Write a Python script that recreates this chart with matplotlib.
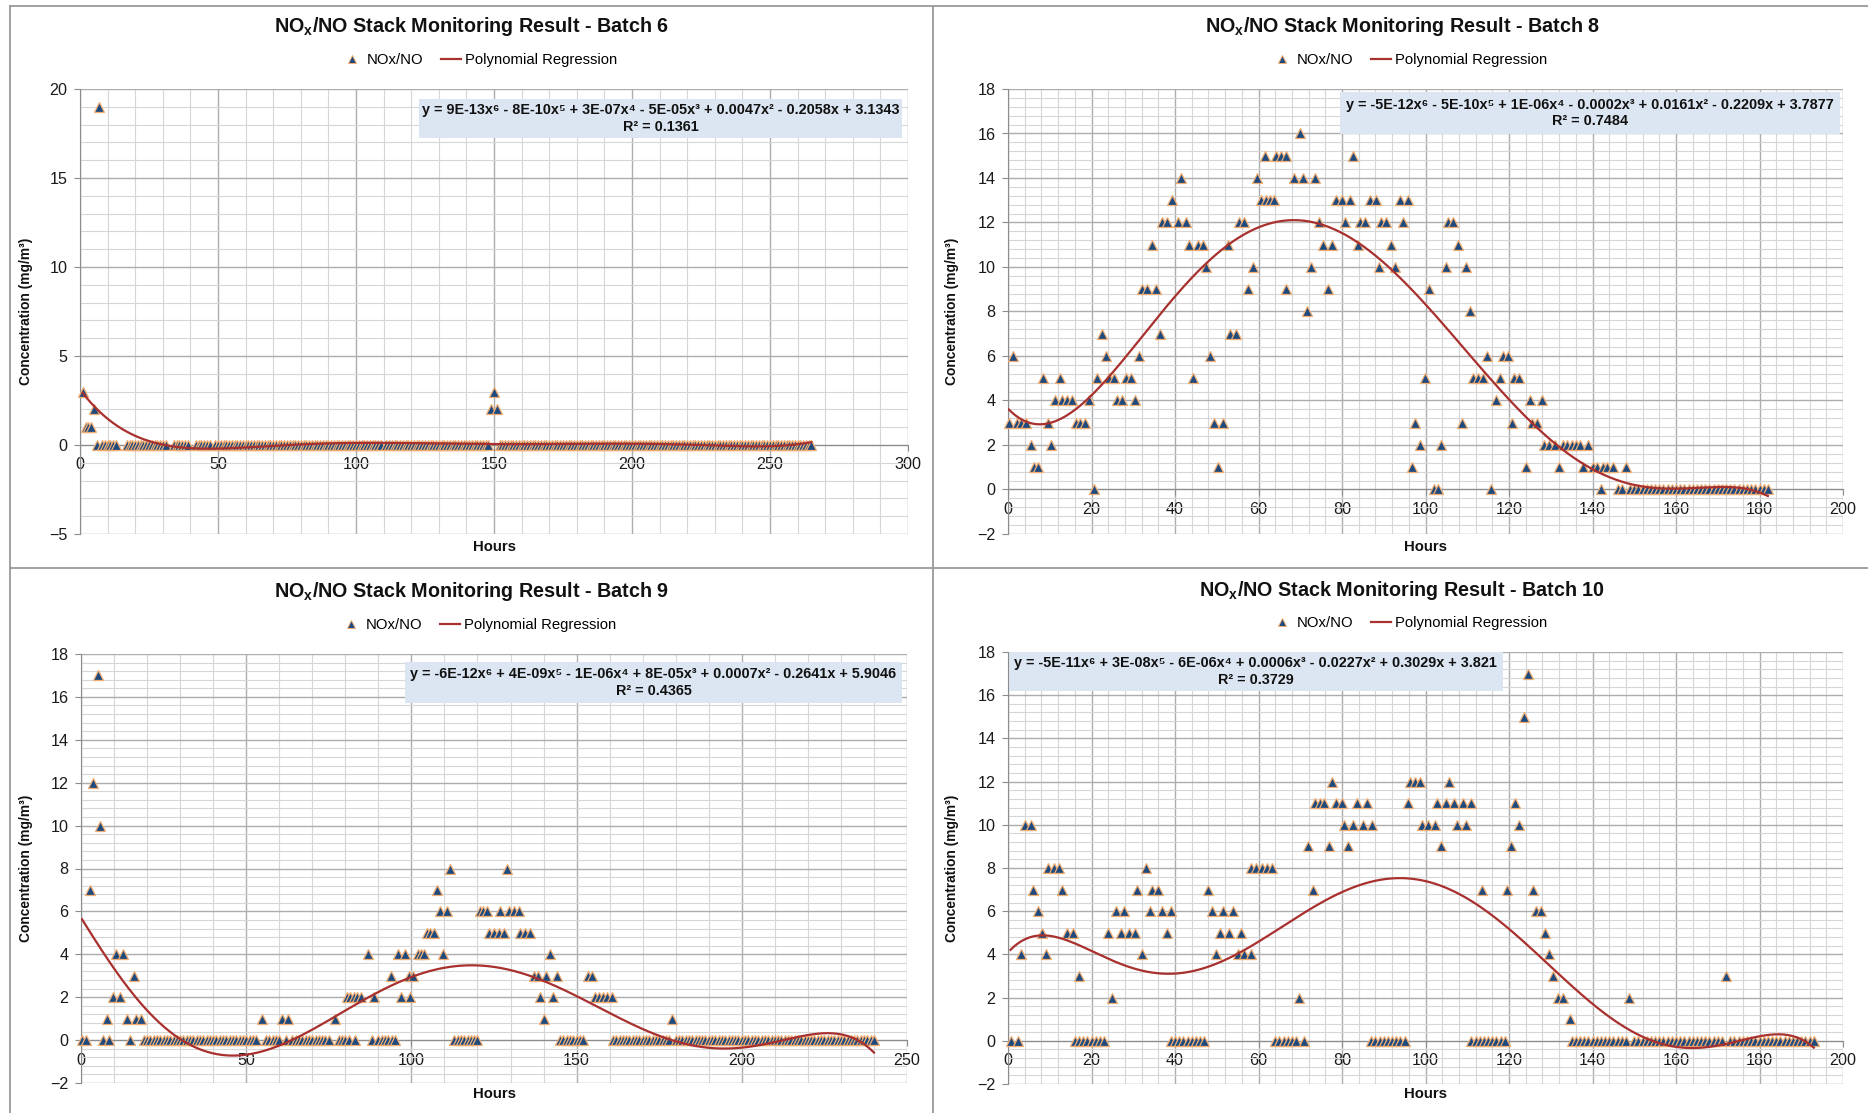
import numpy as np
import matplotlib
matplotlib.use("Agg")
import matplotlib.pyplot as plt
from matplotlib import font_manager
from matplotlib.lines import Line2D
from matplotlib.patches import Rectangle
from matplotlib.ticker import MultipleLocator

# ============================================================
# DATA  (hour, concentration)
# ============================================================

b6_points = [(1, 3), (2, 1), (3, 1), (4, 1), (5, 2), (6, 0), (7, 19),
             (149, 2), (150, 3), (151, 2)]
b6_zero_runs = [(8, 13), (17, 31), (34, 39), (42, 47), (49, 109), (111, 148), (152, 265)]

b8_points = [
    (70, 16),
    (61.6, 15), (64.2, 15), (65.4, 15), (66.5, 15), (82.7, 15),
    (41.4, 14), (59.6, 14), (68.6, 14), (70.6, 14), (73.6, 14),
    (39.4, 13), (60.6, 13), (61.8, 13), (62.8, 13), (63.8, 13), (78.6, 13), (80, 13),
    (81.8, 13), (86.6, 13), (88.2, 13), (93.8, 13), (95.8, 13),
    (37, 12), (38.2, 12), (40.6, 12), (42.6, 12), (55.4, 12), (56.6, 12), (74.6, 12),
    (80.6, 12), (84.2, 12), (85.4, 12), (89.4, 12), (90.6, 12), (94.7, 12), (105.4, 12), (106.6, 12),
    (34.5, 11), (43.4, 11), (45.4, 11), (46.6, 11), (52.6, 11), (75.5, 11), (77.6, 11),
    (83.8, 11), (91.8, 11), (107.8, 11),
    (47.4, 10), (58.6, 10), (72.6, 10), (88.8, 10), (92.8, 10), (104.8, 10), (109.8, 10),
    (32.2, 9), (33.4, 9), (35.4, 9), (57.4, 9), (66.7, 9), (76.6, 9), (100.8, 9),
    (71.5, 8), (110.7, 8),
    (22.5, 7), (36.5, 7), (53.2, 7), (54.6, 7),
    (1.2, 6), (23.4, 6), (31.4, 6), (48.4, 6), (114.8, 6), (118.5, 6), (119.7, 6),
    (8.4, 5), (12.4, 5), (21.3, 5), (24.2, 5), (25.4, 5), (28.2, 5), (29.4, 5), (44.4, 5),
    (99.8, 5), (111.4, 5), (112.6, 5), (113.7, 5), (117.9, 5), (121.3, 5), (122.5, 5),
    (11.3, 4), (13, 4), (14.2, 4), (15.4, 4), (19.3, 4), (26.2, 4), (27.4, 4), (30.5, 4),
    (117, 4), (125, 4), (128, 4),
    (0.2, 3), (2.2, 3), (3.2, 3), (4.2, 3), (9.7, 3), (16.2, 3), (17.3, 3), (18.5, 3),
    (49.4, 3), (51.6, 3), (97.6, 3), (108.7, 3), (120.8, 3), (125.6, 3), (126.7, 3),
    (5.4, 2), (10.2, 2), (98.8, 2), (103.8, 2), (128.5, 2), (129.7, 2), (130.9, 2),
    (132.9, 2), (134, 2), (135, 2), (136, 2), (136.9, 2), (138.9, 2),
    (6.2, 1), (7.3, 1), (50.4, 1), (96.7, 1), (124, 1), (132, 1), (137.7, 1), (140, 1),
    (141, 1), (142.5, 1), (143.5, 1), (144.9, 1), (148, 1),
    (20.6, 0), (102, 0), (103, 0), (115.7, 0), (142.1, 0), (146, 0), (147, 0),
]
b8_zero_runs = [(149, 182)]

b9_points = [
    (5.0, 17), (3.6, 12), (5.8, 10),
    (111.7, 8), (128.9, 8),
    (2.8, 7), (107.7, 7),
    (108.7, 6), (110.7, 6), (120.8, 6), (121.8, 6), (122.8, 6), (126.8, 6), (129.4, 6),
    (131, 6), (132.5, 6),
    (104.6, 5), (105.6, 5), (106.7, 5), (123.5, 5), (125, 5), (126.5, 5), (128, 5),
    (133, 5), (134.4, 5), (135.9, 5),
    (10.6, 4), (12.7, 4), (87, 4), (95.8, 4), (98.1, 4), (102.1, 4), (102.9, 4), (103.7, 4),
    (109.7, 4), (141.8, 4),
    (15.9, 3), (93.8, 3), (99.3, 3), (100.6, 3), (137.2, 3), (138.4, 3), (140.8, 3), (144, 3),
    (153.4, 3), (154.6, 3),
    (9.6, 2), (11.9, 2), (80.4, 2), (81.5, 2), (82.5, 2), (83.5, 2), (84.6, 2), (88.7, 2),
    (96.8, 2), (99.6, 2), (138.9, 2), (142.8, 2), (155.5, 2), (156.8, 2), (158, 2),
    (159.3, 2), (160.6, 2),
    (7.8, 1), (13.9, 1), (16.7, 1), (18.1, 1), (54.7, 1), (60.8, 1), (62.8, 1), (76.9, 1),
    (140, 1), (178.8, 1),
    (0.3, 0), (1.5, 0), (6.8, 0), (8.6, 0), (14.9, 0),
]
b9_zero_runs = [(19, 53), (56, 60), (62, 62), (64, 75), (78, 81), (83, 83), (88, 88),
                (90, 95), (113, 120), (145, 152), (161, 178), (180, 240)]

b10_points = [
    (124.5, 17), (123.6, 15),
    (77.7, 12), (96.4, 12), (97.5, 12), (98.6, 12), (105.7, 12),
    (73.6, 11), (74.7, 11), (75.7, 11), (78.6, 11), (80, 11), (83.6, 11), (85.9, 11),
    (95.7, 11), (102.7, 11), (104.8, 11), (106.9, 11), (109, 11), (110.9, 11), (121.5, 11),
    (4.1, 10), (5.5, 10), (80.5, 10), (82.7, 10), (85, 10), (87.3, 10), (99.1, 10),
    (100.7, 10), (102.3, 10), (107.5, 10), (109.7, 10), (122.5, 10),
    (71.8, 9), (76.8, 9), (81.5, 9), (103.6, 9), (120.5, 9),
    (9.5, 8), (10.9, 8), (12.3, 8), (33, 8), (58.2, 8), (59.5, 8), (60.8, 8), (62, 8), (63.2, 8),
    (6.1, 7), (13, 7), (30.9, 7), (34.5, 7), (35.9, 7), (47.9, 7), (73, 7), (113.6, 7),
    (119.5, 7), (125.7, 7),
    (7.1, 6), (25.9, 6), (27.9, 6), (33.9, 6), (36.8, 6), (39.1, 6), (48.9, 6), (51.4, 6),
    (53.9, 6), (126.4, 6), (127.7, 6),
    (8.2, 5), (14.1, 5), (15.5, 5), (23.9, 5), (27, 5), (29, 5), (30.5, 5), (38, 5),
    (50.7, 5), (53, 5), (55.9, 5), (128.6, 5),
    (3, 4), (9.1, 4), (32.1, 4), (49.8, 4), (55, 4), (56.6, 4), (58.2, 4), (129.5, 4),
    (17, 3), (130.6, 3), (172, 3),
    (25, 2), (69.7, 2), (131.8, 2), (133, 2), (148.8, 2),
    (134.5, 1),
    (0.6, 0), (2.3, 0),
]
b10_zero_runs = [(16, 23), (39, 47), (64, 69), (71, 71), (87, 95), (111, 119),
                 (135, 148), (150, 171), (173, 193)]

b6_equation = "y = 9E-13x\u2076 - 8E-10x\u2075 + 3E-07x\u2074 - 5E-05x\u00b3 + 0.0047x\u00b2 - 0.2058x + 3.1343\nR\u00b2 = 0.1361"
b8_equation = "y = -5E-12x\u2076 - 5E-10x\u2075 + 1E-06x\u2074 - 0.0002x\u00b3 + 0.0161x\u00b2 - 0.2209x + 3.7877\nR\u00b2 = 0.7484"
b9_equation = "y = -6E-12x\u2076 + 4E-09x\u2075 - 1E-06x\u2074 + 8E-05x\u00b3 + 0.0007x\u00b2 - 0.2641x + 5.9046\nR\u00b2 = 0.4365"
b10_equation = "y = -5E-11x\u2076 + 3E-08x\u2075 - 6E-06x\u2074 + 0.0006x\u00b3 - 0.0227x\u00b2 + 0.3029x + 3.821\nR\u00b2 = 0.3729"

# ============================================================
# STYLE / LAYOUT  (pixel positions on the 1868x1113 canvas)
# ============================================================

W, H = 1868, 1113
MARKER_FACE = "#1F4A7E"
MARKER_EDGE = "#F2AE72"
TREND_COLOR = "#A8302E"
GRID_MAJOR = "#ADADAD"
GRID_MINOR = "#D6D6D6"
AXIS_COLOR = "#8C8C8C"
BOX_COLOR = "#DCE6F2"

available = {f.name for f in font_manager.fontManager.ttflist}
if "Liberation Sans Narrow" in available:
    FONT, FS = "Liberation Sans Narrow", 1.0
else:
    FONT, FS = "Liberation Sans", 0.86

plt.rcParams["font.family"] = [FONT, "DejaVu Sans"]
plt.rcParams["mathtext.fontset"] = "custom"
plt.rcParams["mathtext.rm"] = FONT
plt.rcParams["mathtext.bf"] = FONT + ":bold"

panels = [
    dict(name="Batch 6", points=b6_points, zeros=b6_zero_runs, eq=b6_equation,
         ax_px=(80, 89, 908, 534), xlim=(0, 300), ylim=(-5, 20), xstep=(50, 10), ystep=(5, 1),
         title_xy=(471, 26), legend_xy=(480, 60), box=(419, 99, 902, 138),
         ylab_x=26, hours_y=547),
    dict(name="Batch 8", points=b8_points, zeros=b8_zero_runs, eq=b8_equation,
         ax_px=(1008, 89, 1843, 534), xlim=(0, 200), ylim=(-2, 18), xstep=(20, 4), ystep=(2, 0.4),
         title_xy=(1402, 26), legend_xy=(1410, 60), box=(1340, 92, 1840, 134),
         ylab_x=952, hours_y=547),
    dict(name="Batch 9", points=b9_points, zeros=b9_zero_runs, eq=b9_equation,
         ax_px=(81, 654, 907, 1083), xlim=(0, 250), ylim=(-2, 18), xstep=(50, 10), ystep=(2, 0.4),
         title_xy=(471, 592), legend_xy=(479, 625), box=(405, 662, 902, 703),
         ylab_x=26, hours_y=1094),
    dict(name="Batch 10", points=b10_points, zeros=b10_zero_runs, eq=b10_equation,
         ax_px=(1008, 652, 1843, 1084), xlim=(0, 200), ylim=(-2, 18), xstep=(20, 4), ystep=(2, 0.4),
         title_xy=(1402, 591), legend_xy=(1410, 623), box=(1008, 652, 1503, 691),
         ylab_x=952, hours_y=1094),
]


def fx(px):
    return px / W


def fy(py):
    return 1 - py / H


def batch_arrays(points, zero_runs):
    xs = [p[0] for p in points]
    ys = [p[1] for p in points]
    for first, last in zero_runs:
        for h in range(first, last + 1):
            xs.append(h)
            ys.append(0)
    return np.array(xs, float), np.array(ys, float)


fig = plt.figure(figsize=(W / 100, H / 100), dpi=100)

# panel frames
for xa, ya, xb, yb in [(9.5, 6, 9.5, H), (9.5, 6, W, 6), (933, 6, 933, H), (9.5, 568, W, 568)]:
    fig.add_artist(Line2D([fx(xa), fx(xb)], [fy(ya), fy(yb)], color="#9A9A9A", lw=1.3))

for p in panels:
    l, t, r, b = p["ax_px"]
    ax = fig.add_axes([fx(l), fy(b), fx(r) - fx(l), fy(t) - fy(b)])
    x, y = batch_arrays(p["points"], p["zeros"])

    ax.plot(x, y, ls="none", marker="^", ms=7.3, mfc=MARKER_FACE, mec=MARKER_EDGE,
            mew=0.9, zorder=3, clip_on=False)

    poly = np.polynomial.Polynomial.fit(x, y, 6)
    xs = np.linspace(x.min(), x.max(), 500)
    ax.plot(xs, poly(xs), color=TREND_COLOR, lw=1.6, zorder=4)

    ax.set_xlim(*p["xlim"])
    ax.set_ylim(*p["ylim"])
    ax.xaxis.set_major_locator(MultipleLocator(p["xstep"][0]))
    ax.xaxis.set_minor_locator(MultipleLocator(p["xstep"][1]))
    ax.yaxis.set_major_locator(MultipleLocator(p["ystep"][0]))
    ax.yaxis.set_minor_locator(MultipleLocator(p["ystep"][1]))
    ax.set_axisbelow(True)
    ax.grid(which="major", color=GRID_MAJOR, lw=1.0)
    ax.grid(which="minor", color=GRID_MINOR, lw=0.8)

    for side in ("top", "right"):
        ax.spines[side].set_visible(False)
    ax.spines["bottom"].set_position(("data", 0))
    ax.spines["left"].set_color(AXIS_COLOR)
    ax.spines["bottom"].set_color(AXIS_COLOR)
    ax.tick_params(which="major", length=4, color=AXIS_COLOR, pad=5,
                   labelsize=13.5 * FS, labelcolor="#1A1A1A")
    ax.tick_params(which="minor", length=0)

    # equation box
    bl, bt, br, bb = p["box"]
    ax.add_patch(Rectangle((fx(bl), fy(bb)), fx(br) - fx(bl), fy(bt) - fy(bb),
                           transform=fig.transFigure, facecolor=BOX_COLOR,
                           edgecolor="none", zorder=2, clip_on=False))
    ax.text(fx((bl + br) / 2), fy((bt + bb) / 2), p["eq"], transform=fig.transFigure,
            ha="center", va="center", fontsize=12.1 * FS, fontweight="bold",
            linespacing=1.2, color="#111111", zorder=5)

    # titles and labels
    fig.text(fx(p["title_xy"][0]), fy(p["title_xy"][1]),
             r"NO$_\mathbf{x}$/NO Stack Monitoring Result - " + p["name"],
             ha="center", va="center", fontsize=16.5 * FS, fontweight="bold", color="#111111")
    fig.text(fx(p["ylab_x"]), fy((t + b) / 2), "Concentration (mg/m\u00b3)", rotation=90,
             ha="center", va="center", fontsize=11.5 * FS, fontweight="bold", color="#111111")
    fig.text(fx((l + r) / 2), fy(p["hours_y"]), "Hours", ha="center", va="center",
             fontsize=12.5 * FS, fontweight="bold", color="#111111")

    handles = [Line2D([], [], ls="none", marker="^", ms=6.2, mfc=MARKER_FACE,
                      mec=MARKER_EDGE, mew=0.7),
               Line2D([], [], color=TREND_COLOR, lw=1.6)]
    ax.legend(handles, ["NOx/NO", "Polynomial Regression"], loc="center",
              bbox_to_anchor=(fx(p["legend_xy"][0]), fy(p["legend_xy"][1])),
              bbox_transform=fig.transFigure, ncol=2, frameon=False,
              fontsize=12.5 * FS, handlelength=1.3, handletextpad=0.3, columnspacing=1.2,
              borderpad=0, borderaxespad=0)

fig.savefig("out.png", dpi=100, facecolor="white")
